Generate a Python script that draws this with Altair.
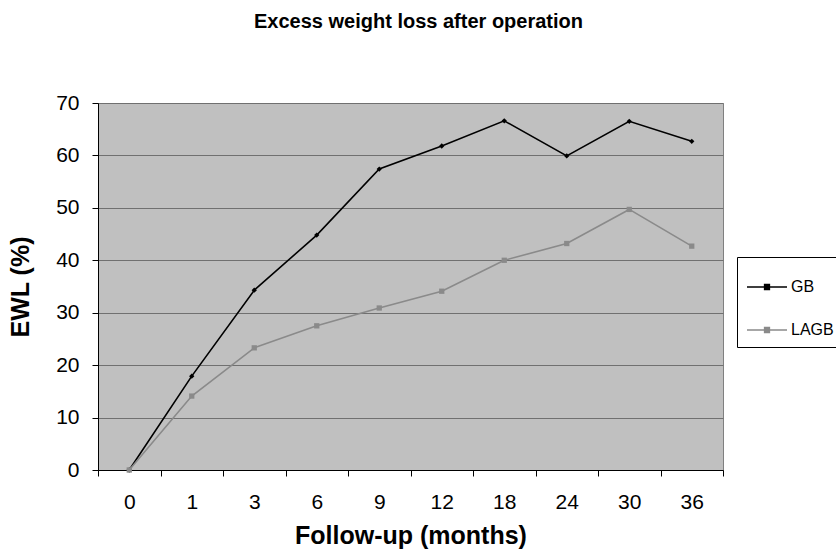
import altair as alt
import pandas as pd

months = ["0", "1", "3", "6", "9", "12", "18", "24", "30", "36"]
gb = [0, 17.9, 34.3, 44.8, 57.4, 61.8, 66.6, 59.9, 66.5, 62.7]
lagb = [0, 14.1, 23.3, 27.5, 30.9, 34.1, 40.0, 43.2, 49.7, 42.7]
series = ["GB", "LAGB"]
colors = ["#000000", "#8a8a8a"]
markers = ["diamond", "square"]

rows = []
for m, v in zip(months, gb):
    rows.append({"month": m, "ewl": v, "group": "GB"})
for m, v in zip(months, lagb):
    rows.append({"month": m, "ewl": v, "group": "LAGB"})
df = pd.DataFrame(rows)

font = "Liberation Sans"

x = alt.X(
    "month:O",
    sort=months,
    scale=alt.Scale(paddingInner=0, paddingOuter=0),
    axis=alt.Axis(
        title="Follow-up (months)",
        labelAngle=0,
        bandPosition=0,
        tickBand="extent",
        labelFontSize=21,
        labelFontWeight="normal",
        titleFontSize=25,
        titleFontWeight="bold",
        labelPadding=15,
        titlePadding=11,
        tickSize=6,
        tickColor="#000000",
        domainColor="#000000",
        labelColor="#000000",
        titleColor="#000000",
        grid=False,
    ),
)
y = alt.Y(
    "ewl:Q",
    scale=alt.Scale(domain=[0, 70], nice=False),
    axis=alt.Axis(
        title="EWL (%)",
        values=list(range(0, 71, 10)),
        labelFontSize=21,
        titleFontSize=25,
        titleFontWeight="bold",
        labelPadding=13,
        titlePadding=22,
        tickSize=6,
        tickColor="#000000",
        domainColor="#000000",
        labelColor="#000000",
        titleColor="#000000",
        grid=True,
        gridColor="#707070",
        gridWidth=1,
    ),
)

color = alt.Color(
    "group:N",
    scale=alt.Scale(domain=series, range=colors),
    legend=alt.Legend(
        title=None,
        orient="none",
        legendX=639,
        legendY=154,
        strokeColor="#000000",
        padding=9,
        labelFontSize=16,
        labelFont=font,
        labelColor="#000000",
        rowPadding=14,
        symbolType="M-1,0L1,0M-0.12,-0.12L0.12,-0.12L0.12,0.12L-0.12,0.12Z",
        symbolSize=1600,
        symbolStrokeWidth=1.5,
        labelOffset=3,
        fillColor="#ffffff",
    ),
)

lines = alt.Chart(df).mark_line(strokeWidth=1.6).encode(x=x, y=y, color=color)

# one marker layer per series so each keeps its own marker shape
marker_layers = [
    alt.Chart(df)
    .transform_filter(alt.datum.group == name)
    .mark_point(filled=True, size=28, opacity=1, shape=shape)
    .encode(x=x, y=y, color=color)
    for name, shape in zip(series, markers)
]

chart = (
    alt.layer(lines, *marker_layers)
    .properties(
        width=625,
        height=367,
        autosize=alt.AutoSizeParams(type="none"),
        padding={"left": 98, "top": 103, "right": 113, "bottom": 84},
        title=alt.TitleParams(
            "Excess weight loss after operation",
            fontSize=20,
            fontWeight="bold",
            font=font,
            color="#000000",
            anchor="middle",
            offset=60,
            dx=8,
        ),
        background="#ffffff",
    )
    .configure_view(fill="#c0c0c0", stroke="#808080", strokeWidth=1)
    .configure_axis(labelFont=font, titleFont=font)
)

chart.save("out.html", embed_options={"renderer": "svg", "actions": False})
